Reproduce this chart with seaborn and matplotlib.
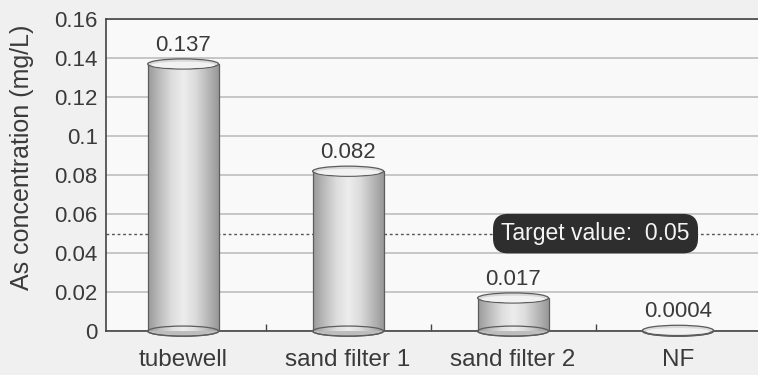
import numpy as np
import matplotlib
matplotlib.use("Agg")
import matplotlib.pyplot as plt
from matplotlib.patches import Ellipse
from matplotlib.colors import LinearSegmentedColormap
import seaborn as sns

# Arsenic concentration after each treatment stage
categories = ["tubewell", "sand filter 1", "sand filter 2", "NF"]
values = [0.137, 0.082, 0.017, 0.0004]
target_value = 0.05
y_ticks = [0, 0.02, 0.04, 0.06, 0.08, 0.1, 0.12, 0.14, 0.16]
y_tick_labels = ["0", "0.02", "0.04", "0.06", "0.08", "0.1", "0.12", "0.14", "0.16"]

sns.set_theme(style="white")
plt.rcParams["font.family"] = ["Liberation Sans", "DejaVu Sans"]

text_color = "#3a3a3a"
fig = plt.figure(figsize=(7.58, 3.75), dpi=100, facecolor="#f0f0f0")
ax = fig.add_axes([0.14, 0.117, 0.86, 0.832])
ax.set_facecolor("#f9f9f9")

bar_width = 0.43
sns.barplot(x=categories, y=values, width=bar_width, color="#c8c8c8",
            saturation=1, ax=ax, zorder=3)

ax.set_xlim(-0.467, 3.485)
ax.set_ylim(0, 0.16)

# metallic shading across a cylinder body
shade = LinearSegmentedColormap.from_list(
    "cyl", ["#9a9a9a", "#bdbdbd", "#dddddd", "#ededed", "#dcdcdc", "#bababa", "#989898"])
grad = np.linspace(0, 1, 256).reshape(1, -1)
ell_h = 0.0052
rim = "#5c5c5c"

for patch in ax.patches[:len(values)]:
    x0 = patch.get_x()
    w = patch.get_width()
    h = patch.get_height()
    cx = x0 + w / 2
    patch.set_facecolor("none")
    patch.set_edgecolor("none")
    # base disc, its lower half hangs below the baseline
    ax.add_patch(Ellipse((cx, 0), w, ell_h, facecolor="#bdbdbd", edgecolor=rim,
                         linewidth=0.9, zorder=3, clip_on=False))
    im = ax.imshow(grad, cmap=shade, aspect="auto", extent=[x0, x0 + w, 0, h],
                   zorder=4, interpolation="bicubic")
    im.set_clip_path(patch)
    ax.plot([x0, x0], [0, h], color=rim, lw=0.9, zorder=5, clip_on=False)
    ax.plot([x0 + w, x0 + w], [0, h], color=rim, lw=0.9, zorder=5, clip_on=False)
    ax.add_patch(Ellipse((cx, 0), w, ell_h, facecolor="none", edgecolor=rim,
                         linewidth=0.9, zorder=5, clip_on=False))
    # open top of the cylinder
    ax.add_patch(Ellipse((cx, h), w, ell_h, facecolor="#d9d9d9", edgecolor=rim,
                         linewidth=0.9, zorder=6, clip_on=False))
    ax.add_patch(Ellipse((cx, h - ell_h * 0.1), w * 0.9, ell_h * 0.65, facecolor="#f2f2f2",
                         edgecolor="none", zorder=6, clip_on=False))

for cx, v in enumerate(values):
    ax.text(cx, v + 0.0095, str(v), ha="center", va="center", fontsize=16,
            color=text_color, zorder=7)

# target level with its label
ax.axhline(target_value, color="#555555", lw=1.0, ls=(0, (2.0, 2.0)), zorder=2)
ax.text(2.5, target_value, f"Target value:  {target_value}", ha="center", va="center",
        fontsize=16.5, color="#f4f4f4", zorder=8,
        bbox=dict(boxstyle="round,pad=0.36,rounding_size=0.65", fc="#2e2e2e", ec="none"))

ax.set_yticks(y_ticks)
ax.set_yticklabels(y_tick_labels, fontsize=16, color=text_color)
ax.yaxis.grid(True, color="#b8b8b8", lw=1.1, zorder=1)
ax.set_axisbelow(True)
ax.tick_params(axis="y", length=0, pad=6)

ax.set_xticks(range(len(categories)))
ax.set_xticklabels(categories, fontsize=17.5, color=text_color)
ax.tick_params(axis="x", which="major", length=0, pad=13)
ax.set_xticks([0.5, 1.5, 2.5], minor=True)
ax.tick_params(axis="x", which="minor", direction="in", length=5, width=1.0,
               color="#444444", bottom=True)

ax.set_xlabel("")
ax.set_ylabel("As concentration (mg/L)", fontsize=18, color=text_color)
ax.yaxis.set_label_coords(-0.110, 0.557)

for side in ["left", "top", "bottom"]:
    ax.spines[side].set_visible(True)
    ax.spines[side].set_color("#444444")
    ax.spines[side].set_linewidth(1.2)
ax.spines["right"].set_visible(False)

fig.savefig("out.png", dpi=100, facecolor=fig.get_facecolor())
